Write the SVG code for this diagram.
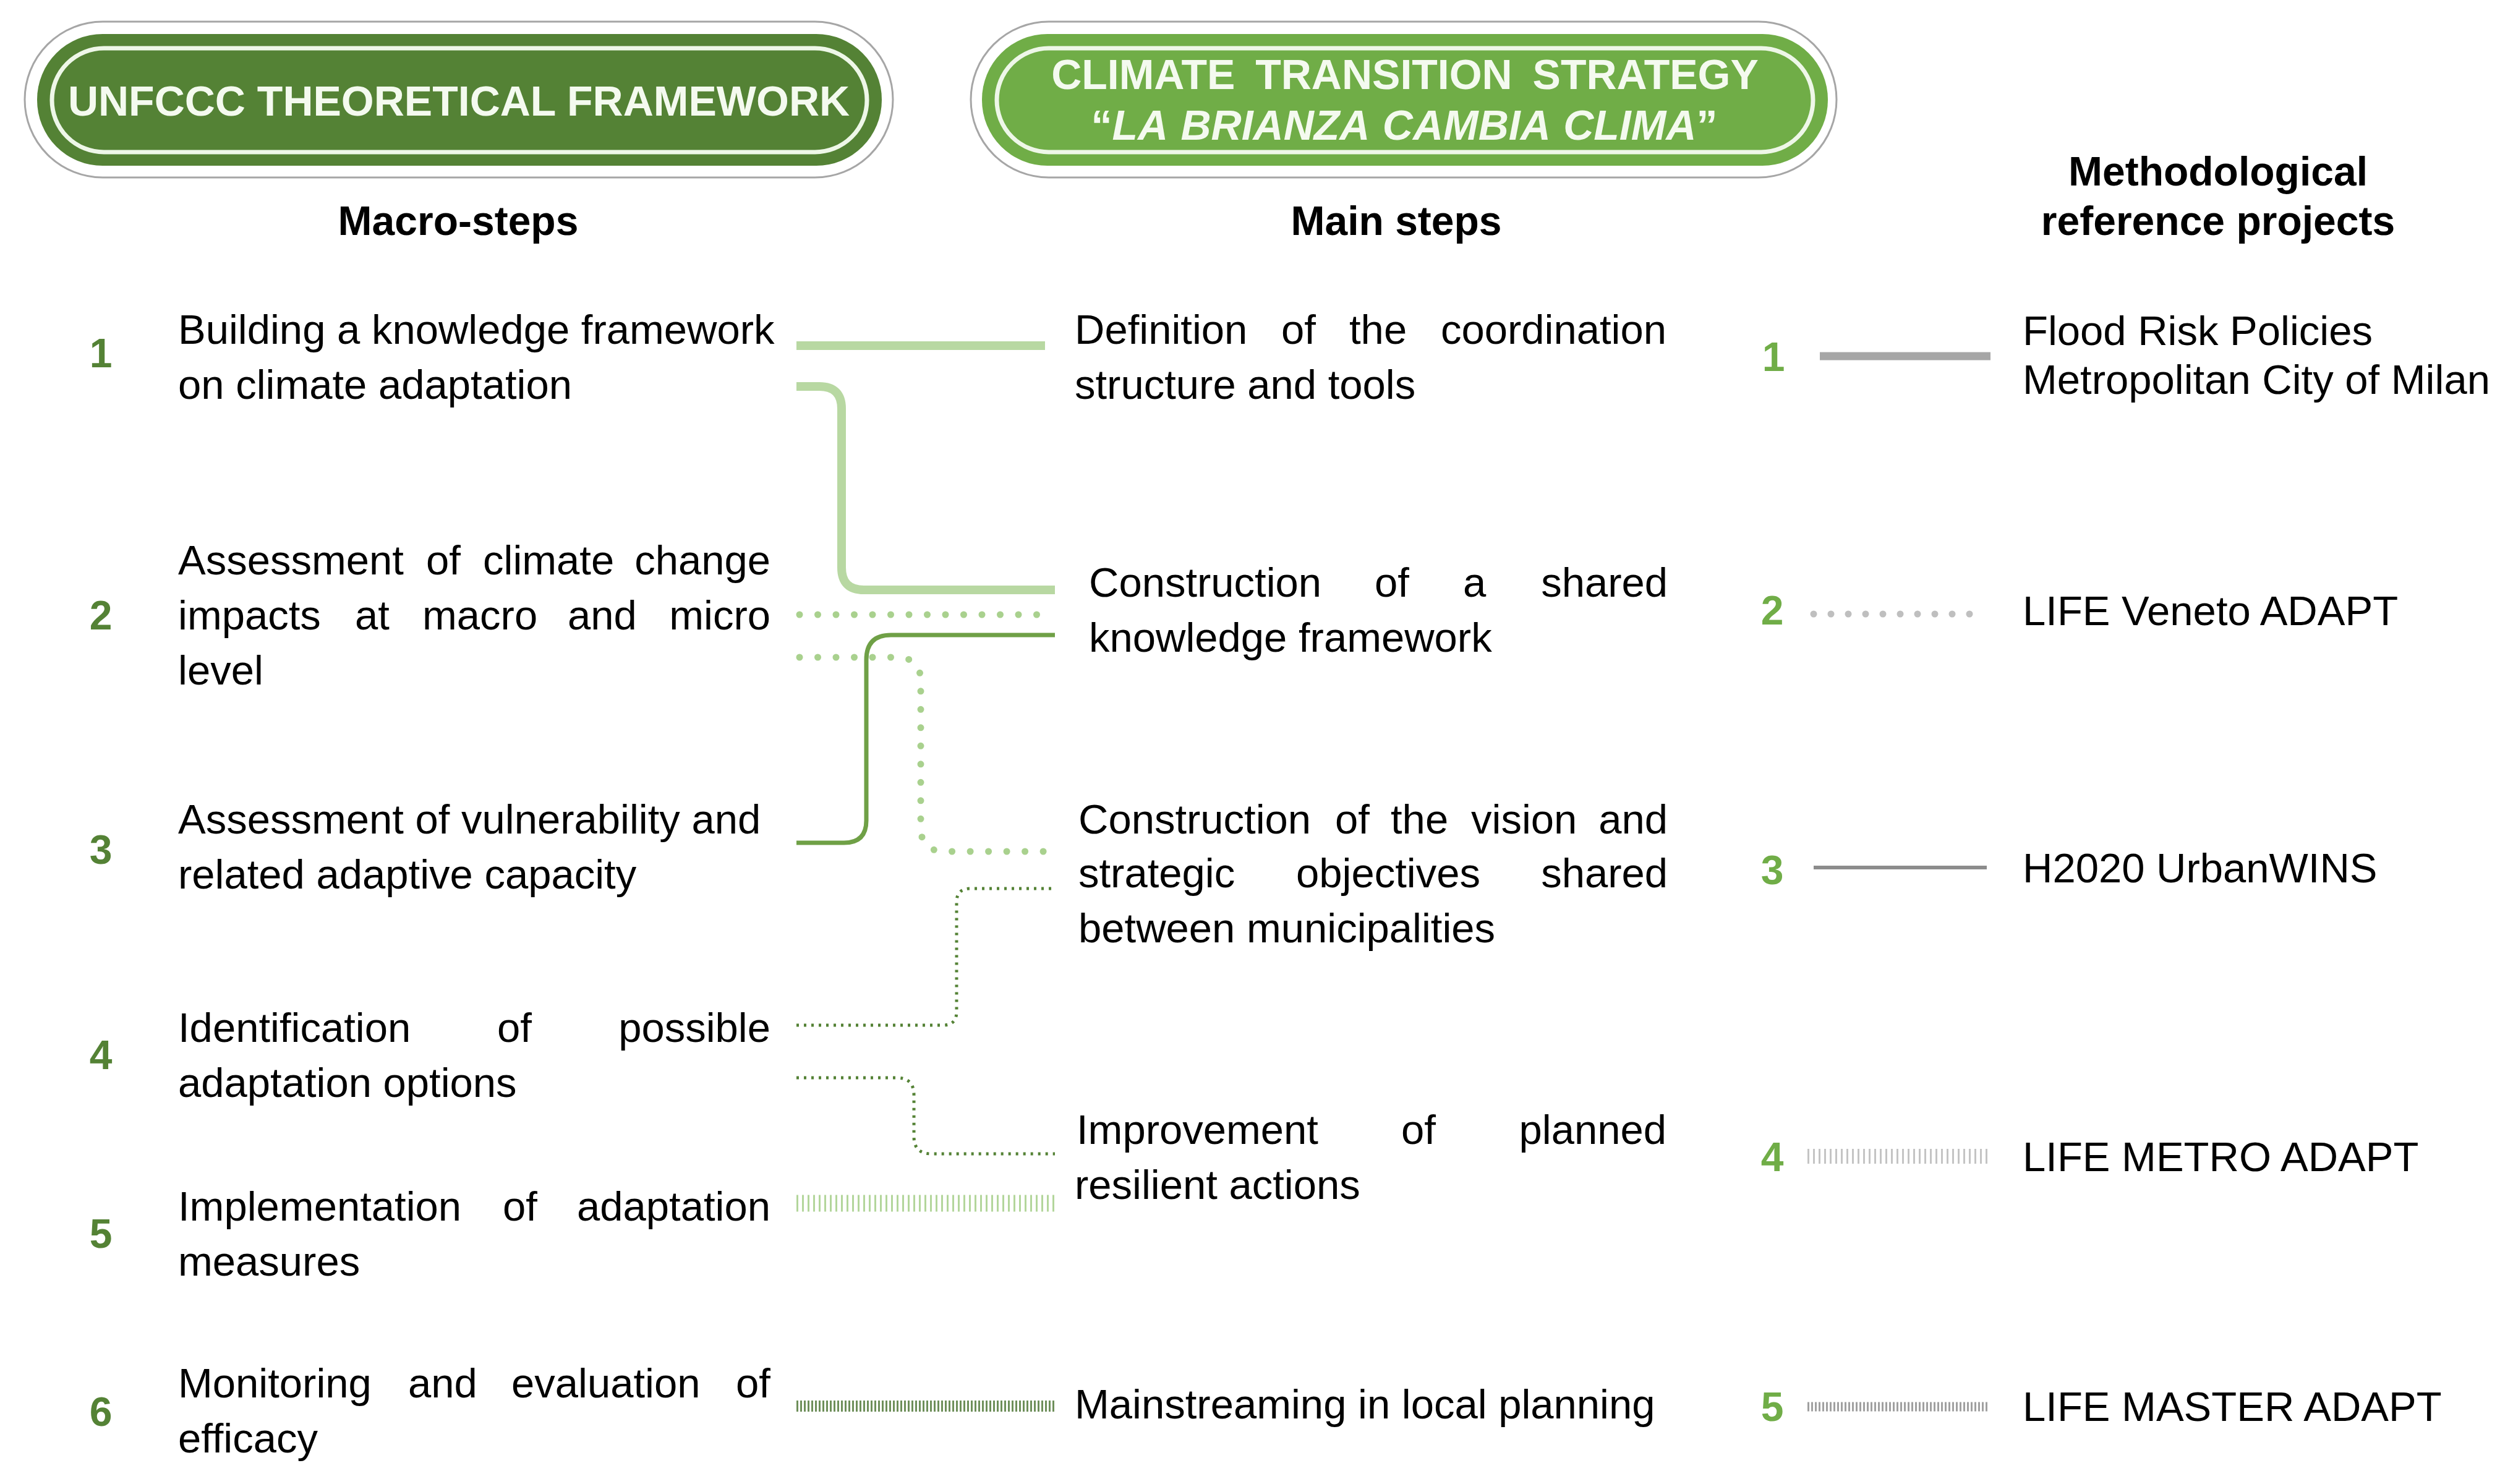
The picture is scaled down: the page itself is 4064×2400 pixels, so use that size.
<svg xmlns="http://www.w3.org/2000/svg" width="4064" height="2400" viewBox="0 0 4064 2400">
<style>
text{font-family:"Liberation Sans",Arial,sans-serif;}
.t{font-size:67px;fill:#000;}
.h{font-size:66px;font-weight:bold;fill:#000;text-anchor:middle;}
.hd{font-size:68px;font-weight:bold;fill:#F4FAEF;text-anchor:middle;}
.nl{font-size:66px;font-weight:bold;fill:#548235;text-anchor:middle;}
.nr{font-size:66px;font-weight:bold;fill:#70AD47;text-anchor:middle;}
.e{text-anchor:end;}
.outer{fill:#fff;stroke:#A6A6A6;stroke-width:3;}
.ring{fill:none;stroke:#EEF7E8;stroke-width:7;}
.c{fill:none;}
.thick{stroke:#B8D8A2;stroke-width:14;stroke-linecap:butt;}
.dotL{stroke:#A9D18E;stroke-width:11;stroke-dasharray:0 29.5;stroke-linecap:round;}
.mid{stroke:#6FA046;stroke-width:7;}
.sdot{stroke:#548235;stroke-width:5;stroke-dasharray:4 8;}
.tick1{stroke:#B3D69B;stroke-width:27;stroke-dasharray:3 6;}
.tick2{stroke:#6E8F5A;stroke-width:18;stroke-dasharray:3 3;}
</style>
<rect width="4064" height="2400" fill="#fff"/>

<g id="header-unfccc">
<rect class="outer" x="40" y="35" width="1404" height="252" rx="126"/>
<rect x="60" y="55" width="1366" height="213" rx="106" fill="#548235"/>
<rect class="ring" x="84" y="78" width="1318" height="168" rx="84"/>
<text class="hd" x="742" y="187">UNFCCC THEORETICAL FRAMEWORK</text>
</g>

<g id="header-strategy">
<rect class="outer" x="1570" y="35" width="1400" height="252" rx="126"/>
<rect x="1588" y="55" width="1368" height="213" rx="106" fill="#70AD47"/>
<rect class="ring" x="1612" y="78" width="1320" height="168" rx="84"/>
<text class="hd" x="2272" y="144" word-spacing="14">CLIMATE  TRANSITION  STRATEGY</text>
<text class="hd" x="2271" y="226" word-spacing="4">“<tspan font-style="italic">LA BRIANZA CAMBIA CLIMA</tspan>”</text>
</g>

<g id="column-headers">
<text class="h" x="741" y="380">Macro-steps</text>
<text class="h" x="2258" y="380">Main steps</text>
<text class="h" x="3587" y="300">Methodological</text>
<text class="h" x="3587" y="380">reference projects</text>
</g>

<g id="macro-steps">
<g id="macro-1">
<text class="nl" x="163" y="594">1</text>
<text class="t" x="288" y="556">Building a knowledge framework</text>
<text class="t" x="288" y="645">on climate adaptation</text>
</g>
<g id="macro-2">
<text class="nl" x="163" y="1018">2</text>
<text class="t" y="929"><tspan x="288">Assessment</tspan> <tspan x="689">of</tspan> <tspan x="781">climate</tspan> <tspan class="e" x="1246">change</tspan></text>
<text class="t" y="1018"><tspan x="288">impacts</tspan> <tspan x="574">at</tspan> <tspan x="683">macro</tspan> <tspan x="918">and</tspan> <tspan class="e" x="1246">micro</tspan></text>
<text class="t" x="288" y="1107">level</text>
</g>
<g id="macro-3">
<text class="nl" x="163" y="1397">3</text>
<text class="t" x="288" y="1348">Assessment of vulnerability and</text>
<text class="t" x="288" y="1437">related adaptive capacity</text>
</g>
<g id="macro-4">
<text class="nl" x="163" y="1729">4</text>
<text class="t" y="1685"><tspan x="288">Identification</tspan> <tspan x="804">of</tspan> <tspan class="e" x="1246">possible</tspan></text>
<text class="t" x="288" y="1774">adaptation options</text>
</g>
<g id="macro-5">
<text class="nl" x="163" y="2018">5</text>
<text class="t" y="1974"><tspan x="288">Implementation</tspan> <tspan x="813">of</tspan> <tspan class="e" x="1246">adaptation</tspan></text>
<text class="t" x="288" y="2063">measures</text>
</g>
<g id="macro-6">
<text class="nl" x="163" y="2306">6</text>
<text class="t" y="2260"><tspan x="288">Monitoring</tspan> <tspan x="660">and</tspan> <tspan x="827">evaluation</tspan> <tspan class="e" x="1246">of</tspan></text>
<text class="t" x="288" y="2349">efficacy</text>
</g>
</g>

<g id="main-steps">
<g id="main-1">
<text class="t" y="556"><tspan x="1738">Definition</tspan> <tspan x="2072">of</tspan> <tspan x="2182">the</tspan> <tspan class="e" x="2695">coordination</tspan></text>
<text class="t" x="1738" y="645">structure and tools</text>
</g>
<g id="main-2">
<text class="t" y="965"><tspan x="1761">Construction</tspan> <tspan x="2223">of</tspan> <tspan x="2366">a</tspan> <tspan class="e" x="2697">shared</tspan></text>
<text class="t" x="1761" y="1054">knowledge framework</text>
</g>
<g id="main-3">
<text class="t" y="1348"><tspan x="1744">Construction</tspan> <tspan x="2159">of</tspan> <tspan x="2249">the</tspan> <tspan x="2379">vision</tspan> <tspan class="e" x="2697">and</tspan></text>
<text class="t" y="1435"><tspan x="1744">strategic</tspan> <tspan x="2096">objectives</tspan> <tspan class="e" x="2697">shared</tspan></text>
<text class="t" x="1744" y="1524">between municipalities</text>
</g>
<g id="main-4">
<text class="t" y="1850"><tspan x="1741">Improvement</tspan> <tspan x="2266">of</tspan> <tspan class="e" x="2695">planned</tspan></text>
<text class="t" x="1738" y="1939">resilient actions</text>
</g>
<g id="main-5">
<text class="t" x="1738" y="2294">Mainstreaming in local planning</text>
</g>
</g>

<g id="reference-projects">
<g id="ref-1">
<text class="nr" x="2868" y="600">1</text>
<path class="c" d="M2943,576 H3219" stroke="#A6A6A6" stroke-width="13"/>
<text class="t" x="3271" y="558">Flood Risk Policies</text>
<text class="t" x="3271" y="637">Metropolitan City of Milan</text>
</g>
<g id="ref-2">
<text class="nr" x="2866" y="1010">2</text>
<path class="c" d="M2933,993 H3213" stroke="#BFBFBF" stroke-width="11" stroke-dasharray="0 28" stroke-linecap="round"/>
<text class="t" x="3271" y="1011">LIFE Veneto ADAPT</text>
</g>
<g id="ref-3">
<text class="nr" x="2866" y="1430">3</text>
<path class="c" d="M2933,1403 H3213" stroke="#8C8C8C" stroke-width="6"/>
<text class="t" x="3271" y="1427">H2020 UrbanWINS</text>
</g>
<g id="ref-4">
<text class="nr" x="2866" y="1894">4</text>
<path class="c" d="M2923,1870 H3217" stroke="#C4C4C4" stroke-width="24" stroke-dasharray="3 6"/>
<text class="t" x="3271" y="1894">LIFE METRO ADAPT</text>
</g>
<g id="ref-5">
<text class="nr" x="2866" y="2298">5</text>
<path class="c" d="M2923,2275 H3217" stroke="#A0A0A0" stroke-width="15" stroke-dasharray="3 3"/>
<text class="t" x="3271" y="2298">LIFE MASTER ADAPT</text>
</g>
</g>

<g id="connectors">
<path class="c thick" d="M1288,559 H1690"/>
<path class="c thick" d="M1288,625 H1325 Q1361,625 1361,661 V918 Q1361,954 1397,954 H1706"/>
<path class="c dotL" d="M1293,994 H1706"/>
<path class="c mid" d="M1288,1363 H1365 Q1401,1363 1401,1327 V1067 Q1401,1027 1441,1027 H1706"/>
<path class="c dotL" d="M1293,1063 H1450 Q1489,1063 1489,1102 V1338 Q1489,1377 1528,1377 H1700"/>
<path class="c sdot" d="M1288,1658 H1525 Q1547,1658 1547,1636 V1459 Q1547,1437 1569,1437 H1706"/>
<path class="c sdot" d="M1288,1743 H1450 Q1478,1743 1478,1771 V1838 Q1478,1866 1506,1866 H1706"/>
<path class="c tick1" d="M1288,1946 H1706"/>
<path class="c tick2" d="M1288,2274 H1706"/>
</g>
</svg>
